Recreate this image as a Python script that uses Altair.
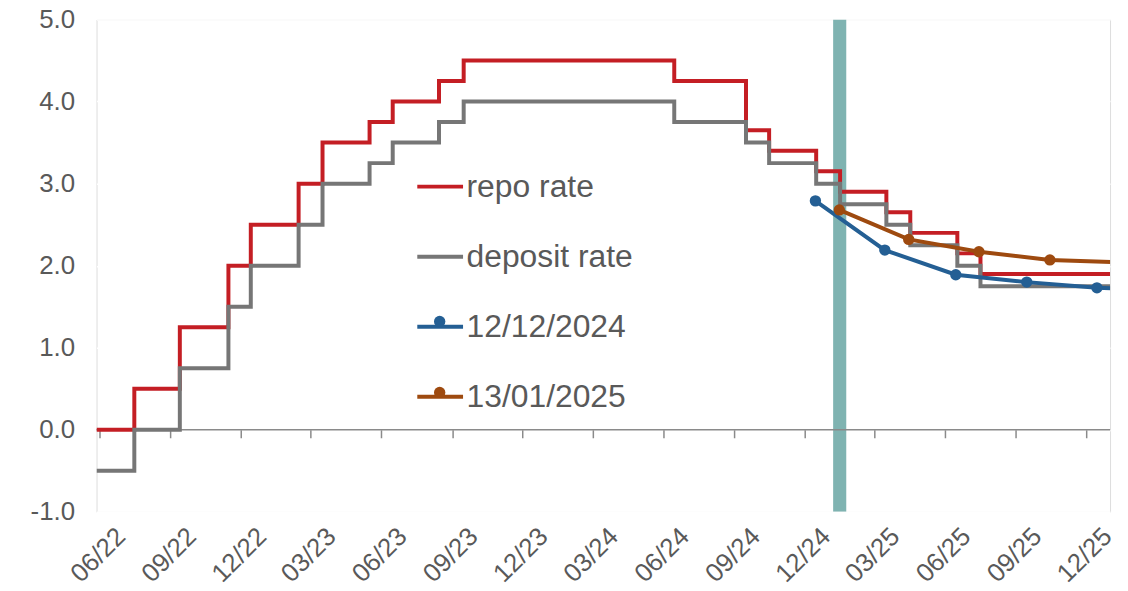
import altair as alt
import pandas as pd

# ---------------- data ----------------
step_dates = ["2022/05/28", "2022/07/16", "2022/09/13", "2022/11/15", "2022/12/14",
              "2023/02/14", "2023/03/17", "2023/05/17", "2023/06/16", "2023/08/15",
              "2023/09/16", "2024/06/15", "2024/09/16", "2024/10/16", "2024/12/16",
              "2025/01/16", "2025/03/17", "2025/04/17", "2025/06/17", "2025/07/17",
              "2026/01/01"]
repo_rate = [0.00, 0.50, 1.25, 2.00, 2.50, 3.00, 3.50, 3.75, 4.00, 4.25, 4.50,
             4.25, 3.65, 3.40, 3.15, 2.90, 2.65, 2.40, 2.15, 1.90, 1.90]
deposit_rate = [-0.50, 0.00, 0.75, 1.50, 2.00, 2.50, 3.00, 3.25, 3.50, 3.75, 4.00,
                3.75, 3.50, 3.25, 3.00, 2.75, 2.50, 2.25, 2.00, 1.75, 1.75]

fwd_dec_dates = ["2024/12/15", "2025/03/15", "2025/06/15", "2025/09/15", "2025/12/15", "2026/03/15"]
fwd_dec_values = [2.79, 2.19, 1.89, 1.80, 1.73, 1.70]
fwd_jan_dates = ["2025/01/15", "2025/04/15", "2025/07/15", "2025/10/15", "2026/01/15"]
fwd_jan_values = [2.68, 2.32, 2.17, 2.07, 2.04]

band_start = ["2025/01/07"]
band_end = ["2025/01/24"]

series_names = ["repo rate", "deposit rate", "12/12/2024", "13/01/2025"]
series_colors = ["#C41E24", "#767676", "#245F94", "#9E4A0F"]

tick_months = [(2022, 6), (2022, 9), (2022, 12), (2023, 3), (2023, 6), (2023, 9),
               (2023, 12), (2024, 3), (2024, 6), (2024, 9), (2024, 12), (2025, 3),
               (2025, 6), (2025, 9), (2025, 12)]
y_ticks = [-1, 0, 1, 2, 3, 4, 5]

# ---------------- tables ----------------
n = len(step_dates)
steps_df = pd.DataFrame({
    "date": step_dates * 2,
    "rate": repo_rate + deposit_rate,
    "series": [series_names[0]] * n + [series_names[1]] * n,
})
fwd_df = pd.DataFrame({
    "date": fwd_dec_dates + fwd_jan_dates,
    "rate": fwd_dec_values + fwd_jan_values,
    "series": [series_names[2]] * len(fwd_dec_dates) + [series_names[3]] * len(fwd_jan_dates),
})
band_df = pd.DataFrame({"start": band_start, "end": band_end})
zero_df = pd.DataFrame({"v": [0]})

# ---------------- styles ----------------
FONT = "Liberation Sans"
TXT = "#595959"
AXIS_GRAY = "#8a8a8a"

tick_values = [alt.DateTime(year=y, month=m, date=1) for y, m in tick_months]
x_scale = alt.Scale(domain=[alt.DateTime(year=2022, month=5, date=28),
                            alt.DateTime(year=2026, month=1, date=1)], nice=False)
y_scale = alt.Scale(domain=[-1, 5], nice=False)
color_scale = alt.Scale(domain=series_names, range=series_colors)
fill_scale = alt.Scale(domain=series_names[2:], range=series_colors[2:])

y_axis = alt.Axis(values=y_ticks,
                  labelExpr="(datum.value < 0 ? '-' : '') + format(abs(datum.value), '.1f')",
                  labelFontSize=26, labelColor=TXT,
                  labelFont=FONT, domain=False, ticks=False, tickSize=0, grid=True,
                  gridColor="white", gridWidth=1.5, labelPadding=22, title=None)
x_axis_labels = alt.Axis(values=tick_values, format="%m/%y", labelAngle=-45, orient="bottom",
                         labelFontSize=26, labelColor=TXT, labelFont=FONT,
                         domain=False, ticks=False, tickSize=0, grid=False,
                         labelPadding=11, labelOffset=12, labelOverlap=False, title=None)
x_axis_ticks = alt.Axis(values=tick_values, labels=False, domain=False, ticks=True,
                        orient="bottom",
                        tickSize=8, tickWidth=1.5, tickColor=AXIS_GRAY, grid=False,
                        offset=-82.5, title=None)

legend_lines = alt.Legend(title=None, orient="none", legendX=320.5, legendY=143,
                          symbolType="stroke", symbolSize=2116, symbolStrokeWidth=4,
                          labelFontSize=32, labelColor=TXT, labelFont=FONT,
                          labelLimit=400, labelOffset=1.5, rowPadding=29.4, padding=0)
legend_dots = alt.Legend(title=None, orient="none", legendX=339, legendY=297.5,
                         symbolType="circle", symbolSize=130, symbolStrokeWidth=0,
                         symbolOpacity=1, labelExpr="''", labelFontSize=1,
                         rowPadding=59.4, padding=0)

# ---------------- layers ----------------
band = alt.Chart(band_df).mark_rect(color="#7FB3B1", clip=True).encode(
    x=alt.X("start:T", scale=x_scale, axis=x_axis_labels),
    x2="end:T",
)

zero_line = alt.Chart(zero_df).mark_rule(color=AXIS_GRAY, strokeWidth=1.5).encode(
    y=alt.Y("v:Q", scale=y_scale, axis=y_axis),
)


def step_layer(name, with_ticks):
    return alt.Chart(steps_df).transform_filter(alt.datum.series == name).mark_line(
        interpolate="step-after", strokeWidth=4, clip=True
    ).encode(
        x=alt.X("date:T", scale=x_scale, axis=x_axis_ticks if with_ticks else None),
        y=alt.Y("rate:Q", scale=y_scale, axis=y_axis),
        color=alt.Color("series:N", scale=color_scale, legend=legend_lines),
    )


def fwd_line(name):
    return alt.Chart(fwd_df).transform_filter(alt.datum.series == name).mark_line(
        strokeWidth=4, clip=True
    ).encode(
        x=alt.X("date:T", scale=x_scale, axis=None),
        y=alt.Y("rate:Q", scale=y_scale, axis=y_axis),
        color=alt.Color("series:N", scale=color_scale, legend=legend_lines),
    )


points = alt.Chart(fwd_df).mark_point(filled=True, size=130, opacity=1, clip=True).encode(
    x=alt.X("date:T", scale=x_scale, axis=None),
    y=alt.Y("rate:Q", scale=y_scale, axis=y_axis),
    fill=alt.Fill("series:N", scale=fill_scale, legend=legend_dots),
)

chart = alt.layer(
    band,
    zero_line,
    step_layer(series_names[0], True),
    step_layer(series_names[1], False),
    fwd_line(series_names[2]),
    fwd_line(series_names[3]),
    points,
).resolve_axis(x="independent").properties(
    width=1019,
    height=495,
    padding={"left": 89, "top": 10, "right": 10, "bottom": 82},
    autosize="none",
    background="white",
).configure_view(
    fill="#F5F9FA",
    stroke=None,
).configure(font=FONT)

chart.save("out.html", embed_options={"renderer": "svg", "actions": False})
